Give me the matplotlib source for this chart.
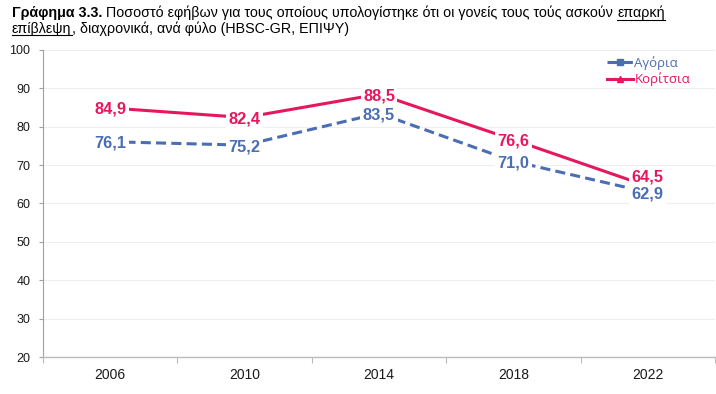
import numpy as np
import matplotlib
matplotlib.use("Agg")
import matplotlib.pyplot as plt
import matplotlib.transforms as mtransforms
from matplotlib.lines import Line2D

# ---- data ----
years = ["2006", "2010", "2014", "2018", "2022"]
boys = [76.1, 75.2, 83.5, 71.0, 62.9]
girls = [84.9, 82.4, 88.5, 76.6, 64.5]
series_names = ["Αγόρια", "Κορίτσια"]
yticks = [20, 30, 40, 50, 60, 70, 80, 90, 100]

# ---- style ----
BLUE = "#4A6DB3"
PINK = "#E5175F"
girls_label_dy = [0, 0, 0, 0, 8]   # points
boys_label_dy = [0, 0, 0, 0, 0]

plt.rcParams["font.family"] = ["Liberation Sans", "DejaVu Sans"]

W, H = 716, 394
fig = plt.figure(figsize=(W / 100, H / 100), dpi=100)
ax = fig.add_axes([43 / W, 1 - 357 / H, 672 / W, 307 / H])

x = np.arange(len(years))
ax.plot(x, boys, color=BLUE, lw=2.2, ls=(0, (3.3, 1.7)), marker="s", ms=5,
        label=series_names[0], zorder=3)
ax.plot(x, girls, color=PINK, lw=2.2, marker="^", ms=6,
        label=series_names[1], zorder=3)

def fmt(v):
    return f"{v:.1f}".replace(".", ",")

for vals, col, dys in ((boys, BLUE, boys_label_dy), (girls, PINK, girls_label_dy)):
    for i, v in enumerate(vals):
        ax.annotate(fmt(v), (x[i], v), xytext=(0, dys[i] - 1), textcoords="offset points",
                    ha="center", va="center", fontsize=11.8, fontweight="bold",
                    color=col, zorder=6,
                    bbox=dict(boxstyle="square,pad=0.15", fc="white", ec="none"))

ax.set_xlim(-0.5, len(years) - 0.5)
ax.set_ylim(20, 100)
ax.set_yticks(yticks)
ax.set_xticks(x, labels=years)
ax.set_xticks(np.arange(-0.5, len(years), 1), minor=True)
ax.tick_params(axis="x", which="major", length=0, pad=8, labelsize=10, labelcolor="#1a1a1a")
ax.tick_params(axis="x", which="minor", length=4, width=0.8, color="#BBBBBB", direction="out")
ax.tick_params(axis="y", length=3, width=0.8, color="#A0A0A0", pad=6, labelsize=9,
               labelcolor="#1a1a1a")
ax.grid(axis="y", color="#EEEEEE", lw=0.8, zorder=0)
ax.set_axisbelow(True)
for s in ("top", "right"):
    ax.spines[s].set_visible(False)
ax.spines["left"].set_color("#A0A0A0")
ax.spines["left"].set_linewidth(0.8)
ax.spines["bottom"].set_color("#BBBBBB")
ax.spines["bottom"].set_linewidth(1.0)

leg = ax.legend(loc="upper right", bbox_to_anchor=((690 - 43) / 672, (357 - 56) / 307),
                frameon=False, prop={"family": ["Open Sans", "DejaVu Sans"], "size": 9.5},
                handlelength=2.0, handletextpad=0.1, labelspacing=0.2, borderpad=0,
                borderaxespad=0, markerscale=0.8)
for txt, col in zip(leg.get_texts(), (BLUE, PINK)):
    txt.set_color(col)

# ---- title with mixed weight and underlines ----
renderer = fig.canvas.get_renderer()
ident = mtransforms.IdentityTransform()

def measure(s, size, weight):
    t = fig.text(0, 0, s, fontsize=size, fontweight=weight, transform=ident)
    w = t.get_window_extent(renderer).width
    t.remove()
    return w

def space_w(size, weight):
    return measure("x x", size, weight) - measure("xx", size, weight)

line1 = [("Γράφημα 3.3.", "bold", False, False),
         ("Ποσοστό εφήβων για τους οποίους υπολογίστηκε ότι οι γονείς τους τούς ασκούν", "normal", False, True),
         ("επαρκή", "normal", True, True)]
line2 = [("επίβλεψη", "normal", True, False),
         (", διαχρονικά, ανά φύλο (HBSC-GR, ΕΠΙΨΥ)", "normal", False, False)]

def line_width(pieces, size):
    tot = 0
    for s, w, u, sp in pieces:
        if sp:
            tot += space_w(size, "normal")
        tot += measure(s, size, w)
    return tot

base_size = 10
target = 661 - 12
size = base_size * target / line_width(line1, base_size)

def draw_line(pieces, x0, baseline, size):
    xx = x0
    for s, w, u, sp in pieces:
        if sp:
            xx += space_w(size, "normal")
        t = fig.text(xx, baseline, s, fontsize=size, fontweight=w, transform=ident,
                     ha="left", va="baseline", color="black")
        wd = t.get_window_extent(renderer).width
        if u:
            fig.add_artist(Line2D([xx, xx + wd], [baseline - 2.2, baseline - 2.2],
                                  transform=ident, color="black", lw=0.8))
        xx += wd

draw_line(line1, 12, H - 17.5, size)
draw_line(line2, 12, H - 33, size)

fig.savefig("out.png", dpi=100)
